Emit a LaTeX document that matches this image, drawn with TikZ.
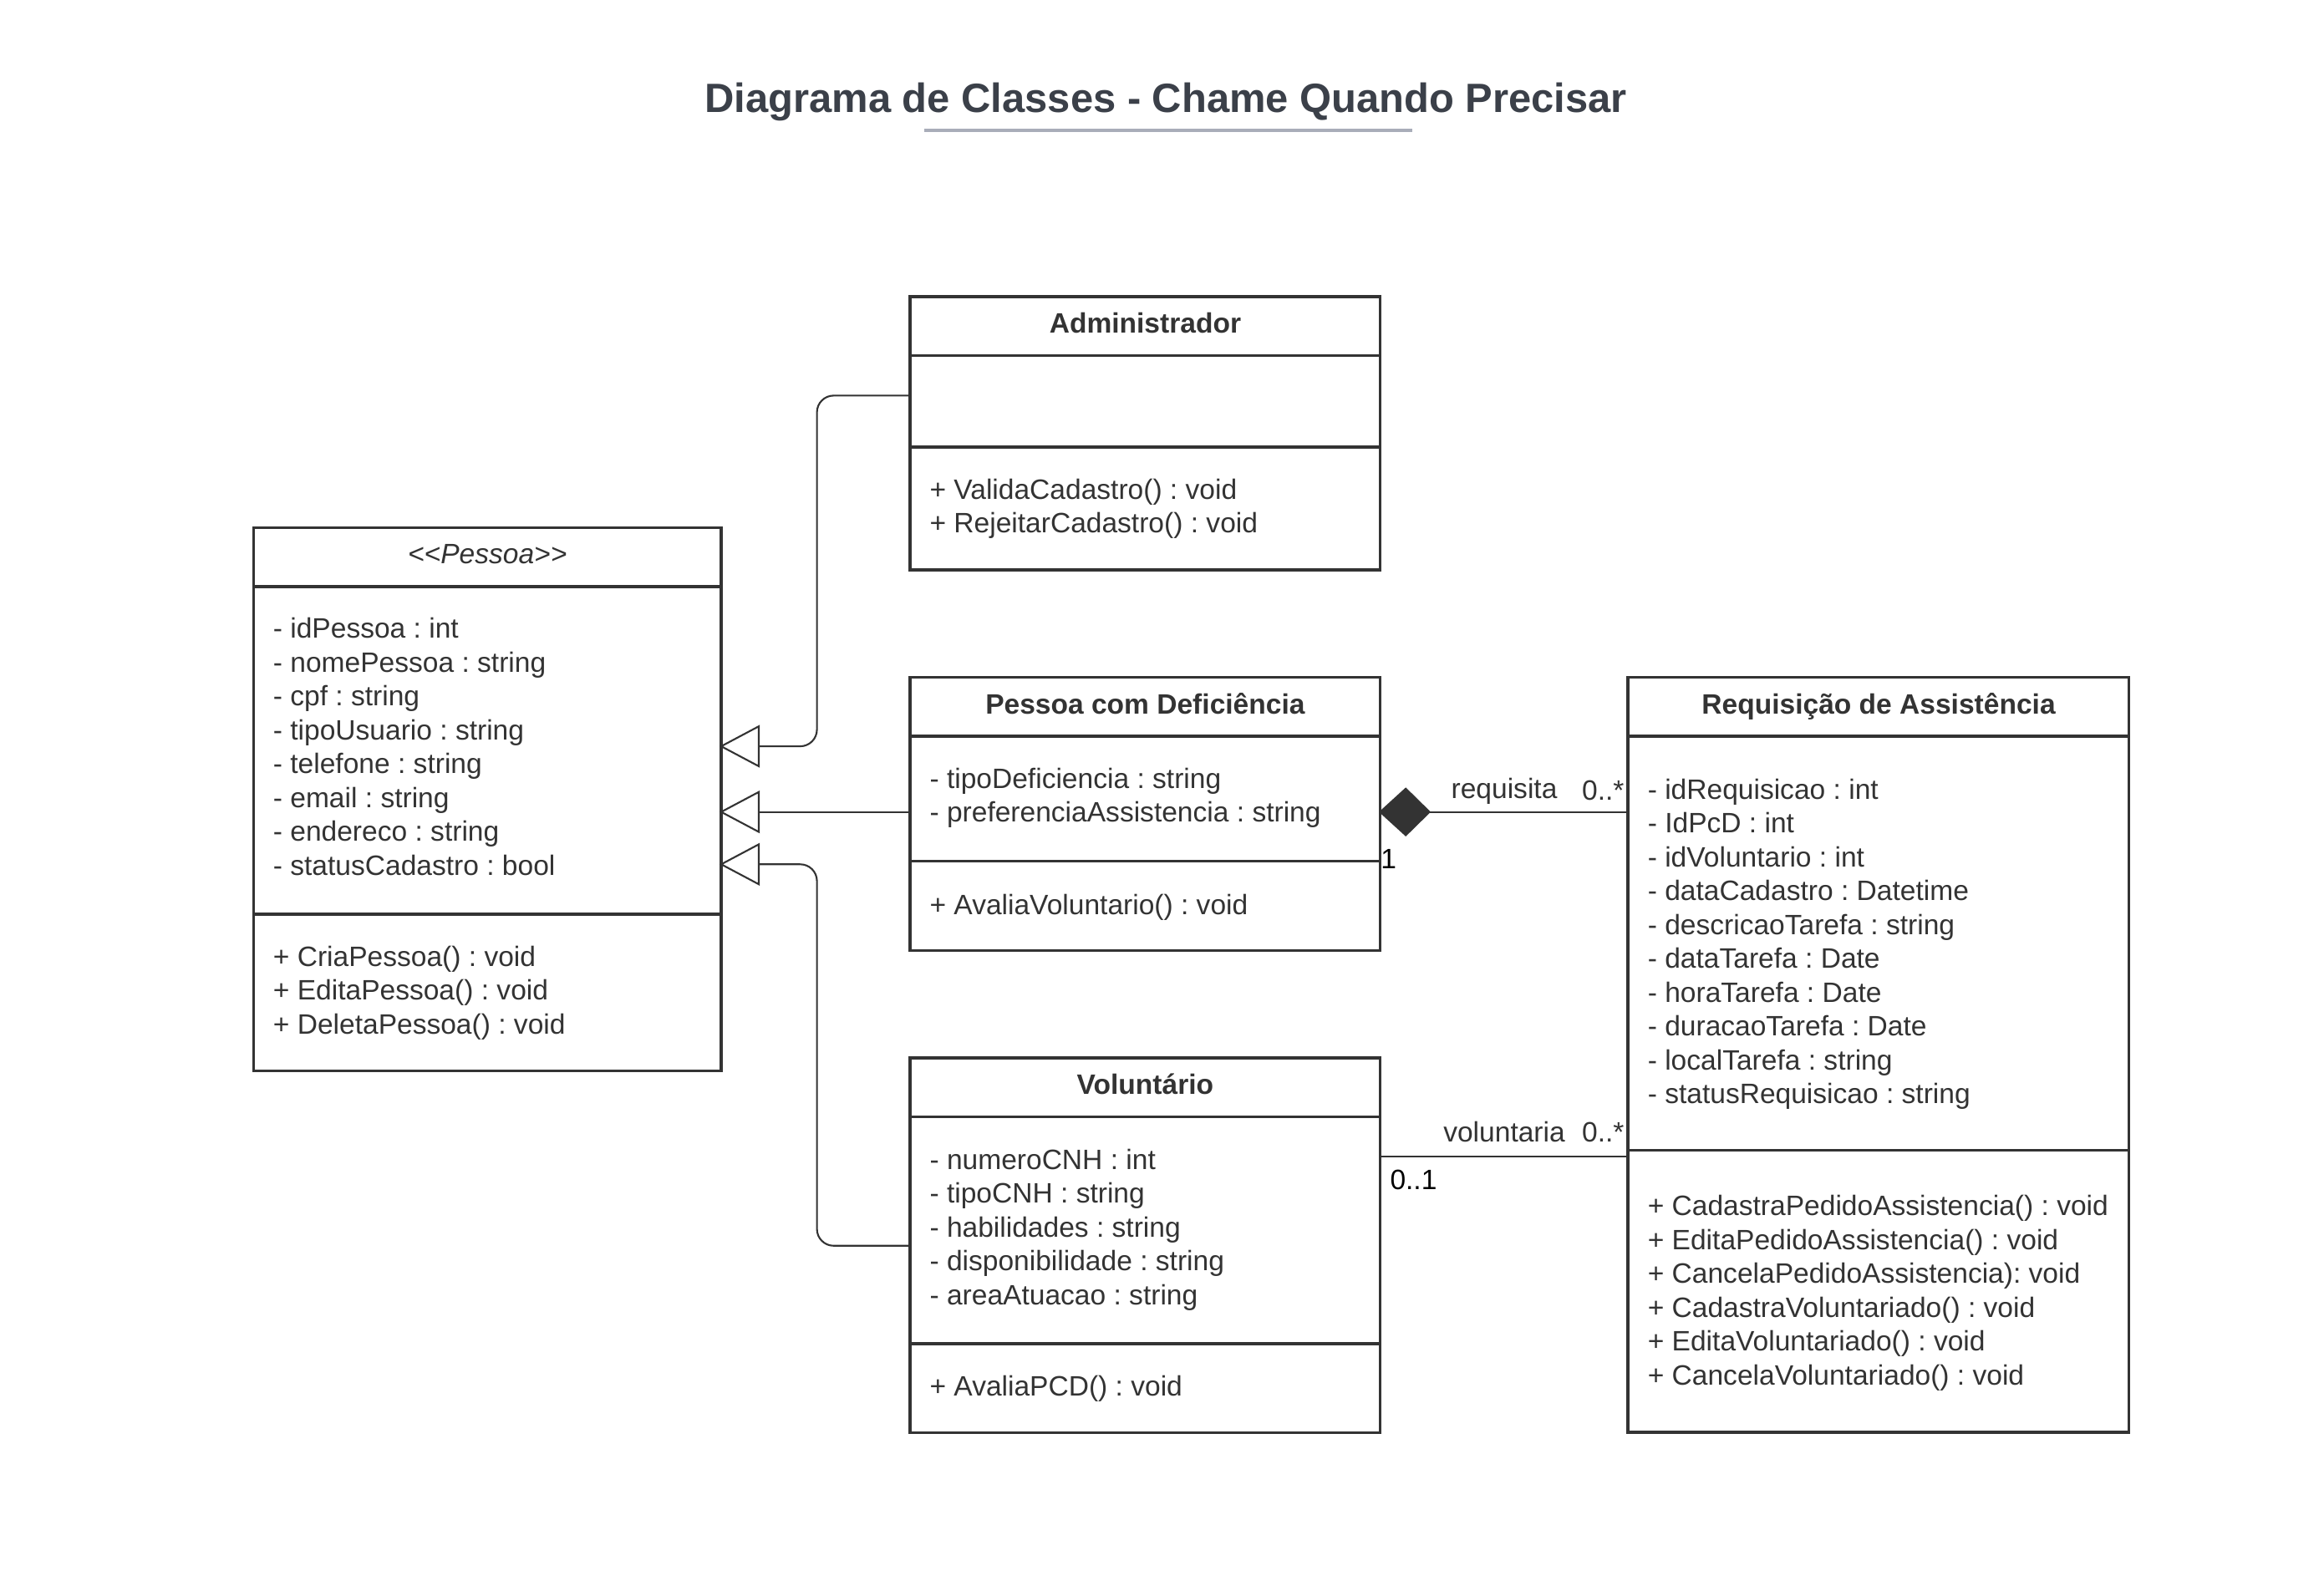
\documentclass[tikz,border=0pt]{standalone}
\usepackage{fontspec}
\setmainfont{Liberation Sans}
\frenchspacing
\definecolor{boxc}{HTML}{333333}
\definecolor{txtc}{HTML}{333333}
\definecolor{titlec}{HTML}{3B4049}
\definecolor{rulec}{HTML}{A9ADB9}
\newcommand\umlfs{\fontsize{9.55}{11.53}\selectfont}
\tikzset{
  cls/.style={draw=boxc, line width=1pt, anchor=north west, inner sep=0pt, outer sep=0pt},
  divl/.style={draw=boxc, line width=1pt},
  conn/.style={draw=boxc, line width=0.6pt},
  gen/.style={draw=boxc, line width=0.6pt, fill=white},
  hdr/.style={font=\umlfs\bfseries, text=txtc, inner sep=0pt},
  body/.style={font=\umlfs, text=txtc, inner sep=0pt, anchor=west, align=left},
  lbl/.style={font=\umlfs, text=txtc, inner sep=0pt},
  lblk/.style={font=\umlfs, text=black, inner sep=0pt},
}
\begin{document}
\begin{tikzpicture}[x=0.009945cm, y=-0.009945cm]
\useasboundingbox (0,0) rectangle (2796.4,1889.4);
\fill[white] (0,0) rectangle (2796.4,1889.4);

% title
\node[font=\fontsize{13.92}{16}\selectfont\bfseries, text=titlec, inner sep=0pt] (title) at (1403,123) {Diagrama de Classes - Chame Quando Precisar};
\draw[rulec, line width=1.1pt] (1112,157) coordinate (ulA) -- (1699,157) coordinate (ulB);

% class boxes
\node[cls, minimum width=5.599cm, minimum height=6.504cm] (pessoa) at (305,635) {};
\node[cls, minimum width=5.629cm, minimum height=3.272cm] (adm) at (1095,357) {};
\node[cls, minimum width=5.629cm, minimum height=3.272cm] (pcd) at (1095,815) {};
\node[cls, minimum width=5.629cm, minimum height=4.485cm] (vol) at (1095,1273) {};
\node[cls, minimum width=5.997cm, minimum height=9.040cm] (req) at (1959,815) {};

% dividers
\draw[divl] (pessoa.west |- 0,706) -- (pessoa.east |- 0,706);
\draw[divl] (pessoa.west |- 0,1100) -- (pessoa.east |- 0,1100);
\draw[divl] (adm.west |- 0,428) -- (adm.east |- 0,428);
\draw[divl] (adm.west |- 0,538) -- (adm.east |- 0,538);
\draw[divl] (pcd.west |- 0,886) -- (pcd.east |- 0,886);
\draw[divl] (pcd.west |- 0,1036) -- (pcd.east |- 0,1036);
\draw[divl] (vol.west |- 0,1344) -- (vol.east |- 0,1344);
\draw[divl] (vol.west |- 0,1617) -- (vol.east |- 0,1617);
\draw[divl] (req.west |- 0,886) -- (req.east |- 0,886);
\draw[divl] (req.west |- 0,1384) -- (req.east |- 0,1384);

% Pessoa texts
\node[hdr, font=\umlfs\itshape] (pHdr) at (586.5,667) {<{}<Pessoa>{}>};
\node[body] (pAttr) at (328,898.5) {- idPessoa : int\\- nomePessoa : string\\- cpf : string\\- tipoUsuario : string\\- telefone : string\\- email : string\\- endereco : string\\- statusCadastro : bool};
\node[body] (pMeth) at (328,1194.5) {+ CriaPessoa() : void\\+ EditaPessoa() : void\\+ DeletaPessoa() : void};

% Administrador
\node[hdr] (aHdr) at (1378,389) {Administrador};
\node[body] (aMeth) at (1118,612) {+ ValidaCadastro() : void\\+ RejeitarCadastro() : void};

% Pessoa com Deficiencia
\node[hdr] (cHdr) at (1378,847) {Pessoa com Deficiência};
\node[body] (cAttr) at (1118,960) {- tipoDeficiencia : string\\- preferenciaAssistencia : string};
\node[body] (cMeth) at (1118,1092) {+ AvaliaVoluntario() : void};

% Voluntario
\node[hdr] (vHdr) at (1378,1305) {Voluntário};
\node[body] (vAttr) at (1118,1479.5) {- numeroCNH : int\\- tipoCNH : string\\- habilidades : string\\- disponibilidade : string\\- areaAtuacao : string};
\node[body] (vMeth) at (1118,1670.5) {+ AvaliaPCD() : void};

% Requisicao
\node[hdr] (rHdr) at (2260.5,850.5) {Requisição de Assistência};
\node[body] (rAttr) at (1982,1136) {- idRequisicao : int\\- IdPcD : int\\- idVoluntario : int\\- dataCadastro : Datetime\\- descricaoTarefa : string\\- dataTarefa : Date\\- horaTarefa : Date\\- duracaoTarefa : Date\\- localTarefa : string\\- statusRequisicao : string};
\node[body] (rMeth) at (1982,1556) {+ CadastraPedidoAssistencia() : void\\+ EditaPedidoAssistencia() : void\\+ CancelaPedidoAssistencia): void\\+ CadastraVoluntariado() : void\\+ EditaVoluntariado() : void\\+ CancelaVoluntariado() : void};

% generalization connectors
\coordinate (g1) at (pessoa.east |- 0,898);
\coordinate (g2) at (pessoa.east |- 0,977);
\coordinate (g3) at (pessoa.east |- 0,1040);
\coordinate (b1) at (913,898);
\coordinate (b2) at (913,977);
\coordinate (b3) at (913,1040);
\coordinate (elb) at (983,0);
\draw[conn, rounded corners=0.2cm] (adm.west |- 0,476) -- (elb |- 0,476) |- (b1);
\draw[conn] (pcd.west |- b2) -- (b2);
\draw[conn, rounded corners=0.2cm] (vol.west |- 0,1499) -- (elb |- 0,1499) |- (b3);
\draw[gen] (g1) -- (913,874) -- (913,922) -- cycle;
\draw[gen] (g2) -- (913,953) -- (913,1001) -- cycle;
\draw[gen] (g3) -- (913,1016) -- (913,1064) -- cycle;

% composition
\coordinate (dL) at (pcd.east |- 0,977);
\coordinate (dR) at (1720,977);
\draw[conn] (req.west |- dR) -- (dR);
\draw[draw=boxc, fill=boxc, line width=0.6pt] (dL) -- (1691.5,949) -- (dR) -- (1691.5,1005) -- cycle;
\node[lbl] (lReq) at (1810,952) {requisita};
\node[lbl, anchor=east] (lReqM) at (1955,951) {0..*};
\node[lblk] (lOne) at (1671,1034) {1};

% association
\draw[conn] (vol.east |- 0,1392) -- (req.west |- 0,1392);
\node[lbl] (lVol) at (1810,1362) {voluntaria};
\node[lbl, anchor=east] (lVolM) at (1955,1362) {0..*};
\node[lblk, anchor=west] (lVolO) at (1672,1420) {0..1};
\end{tikzpicture}
\end{document}
